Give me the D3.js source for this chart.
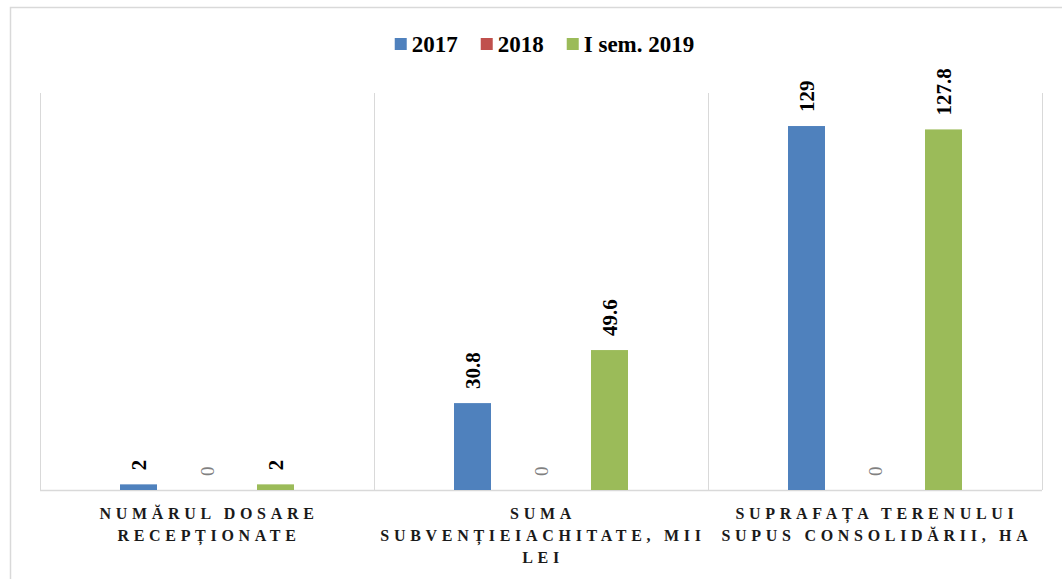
<!DOCTYPE html>
<html>
<head>
<meta charset="utf-8">
<script src="https://cdn.jsdelivr.net/npm/d3@7"></script>
<style>
  body { margin: 0; background: #fff; }
  svg { display: block; }
  text { font-family: "Liberation Serif", "Times New Roman", serif; }
</style>
</head>
<body>
<div id="chart"></div>
<script>
// data
const categories = ["dosare", "subventie", "suprafata"];
const categoryLines = [
  ["NUMĂRUL DOSARE", "RECEPȚIONATE"],
  ["SUMA", "SUBVENȚIEIACHITATE, MII", "LEI"],
  ["SUPRAFAȚA TERENULUI", "SUPUS CONSOLIDĂRII, HA"]
];
const seriesNames = ["2017", "2018", "I sem. 2019"];
const values2017 = [2, 30.8, 129];
const values2018 = [0, 0, 0];
const valuesSem2019 = [2, 49.6, 127.8];
const seriesColors = ["#4f81bd", "#c0504d", "#9bbb59"];

const allValues = [values2017, values2018, valuesSem2019];

const width = 1062,
  height = 579;
const plot = { left: 40, right: 1042, top: 95, bottom: 490 };

const svg = d3
  .select("#chart")
  .append("svg")
  .attr("width", width)
  .attr("height", height);

// outer chart border
svg
  .append("rect")
  .attr("x", 10.5)
  .attr("y", 7.5)
  .attr("width", width + 10)
  .attr("height", height + 10)
  .attr("fill", "none")
  .attr("stroke", "#d9d9d9")
  .attr("stroke-width", 1.5);

const x0 = d3.scaleBand().domain(categories).range([plot.left, plot.right]);

const x1 = d3
  .scaleBand()
  .domain(seriesNames)
  .range([0, x0.bandwidth()])
  .paddingInner(0.46)
  .paddingOuter(1.168);

const y = d3.scaleLinear().domain([0, 140]).range([plot.bottom, plot.top]);

// vertical separators between categories
const sepX = categories.map((c) => x0(c)).concat([plot.right]);
svg
  .append("g")
  .selectAll("line")
  .data(sepX)
  .enter()
  .append("line")
  .attr("x1", (d) => Math.round(d) + 0.5)
  .attr("x2", (d) => Math.round(d) + 0.5)
  .attr("y1", plot.top - 2)
  .attr("y2", plot.bottom)
  .attr("stroke", "#d9d9d9")
  .attr("stroke-width", 1);

// baseline
svg
  .append("line")
  .attr("x1", plot.left)
  .attr("x2", plot.right)
  .attr("y1", y(0) + 0.5)
  .attr("y2", y(0) + 0.5)
  .attr("stroke", "#d9d9d9")
  .attr("stroke-width", 1.5);

// bars + labels
const barData = [];
categories.forEach(function (c, i) {
  seriesNames.forEach(function (s, j) {
    barData.push({ cat: c, series: s, value: allValues[j][i], color: seriesColors[j] });
  });
});

svg
  .append("g")
  .selectAll("rect")
  .data(barData.filter((d) => d.value > 0))
  .enter()
  .append("rect")
  .attr("x", (d) => x0(d.cat) + x1(d.series))
  .attr("y", (d) => y(d.value))
  .attr("width", x1.bandwidth())
  .attr("height", (d) => y(0) - y(d.value))
  .attr("fill", (d) => d.color);

svg
  .append("g")
  .selectAll("text")
  .data(barData)
  .enter()
  .append("text")
  .attr("transform", function (d) {
    const cx = x0(d.cat) + x1(d.series) + x1.bandwidth() / 2;
    return "translate(" + cx + "," + (y(d.value) - 14) + ") rotate(-90)";
  })
  .attr("dy", "0.35em")
  .attr("text-anchor", "start")
  .style("font-size", (d) => (d.value > 0 ? "21px" : "19px"))
  .style("font-weight", (d) => (d.value > 0 ? "bold" : "normal"))
  .attr("fill", (d) => (d.value > 0 ? "#000" : "#808080"))
  .text((d) => d.value);

// category labels
const catLabels = svg
  .append("g")
  .selectAll("text")
  .data(categories)
  .enter()
  .append("text")
  .attr("x", (d) => x0(d) + x0.bandwidth() / 2)
  .attr("y", 519)
  .attr("text-anchor", "middle")
  .style("font-size", "16px")
  .style("font-weight", "bold")
  .style("letter-spacing", "4.7px")
  .attr("fill", "#1a1a1a");

catLabels
  .selectAll("tspan")
  .data((d, i) => categoryLines[i])
  .enter()
  .append("tspan")
  .attr("x", function () {
    return +this.parentNode.getAttribute("x") + 2;
  })
  .attr("dy", (d, i) => (i === 0 ? 0 : 22))
  .text((d) => d);

// legend
const legend = svg.append("g");
let lx = 0;
seriesNames.forEach(function (s, j) {
  const g = legend.append("g").attr("transform", "translate(" + lx + ",0)");
  g.append("rect")
    .attr("x", 0)
    .attr("y", 38)
    .attr("width", 12)
    .attr("height", 12)
    .attr("fill", seriesColors[j]);
  const t = g
    .append("text")
    .attr("x", 17)
    .attr("y", 52)
    .style("font-size", "23px")
    .style("font-weight", "bold")
    .text(s);
  lx += 17 + t.node().getComputedTextLength() + 23;
});
const legendWidth = lx - 23;
legend.attr("transform", "translate(" + (544.5 - legendWidth / 2) + ",0)");
</script>
</body>
</html>
